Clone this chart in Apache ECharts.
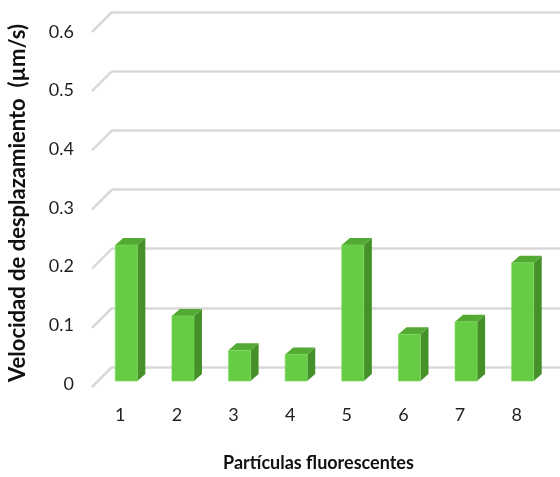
<!DOCTYPE html>
<html>
<head>
<meta charset="utf-8">
<script src="https://cdn.jsdelivr.net/npm/echarts@6/dist/echarts.min.js"></script>
<style>
html,body{margin:0;padding:0;background:#fff;}
#chart{width:560px;height:477px;}
</style>
</head>
<body>
<div id="chart"></div>
<script>
const categories = ['1', '2', '3', '4', '5', '6', '7', '8'];
const velocities = [0.23, 0.11, 0.052, 0.045, 0.23, 0.079, 0.10, 0.20];
const yTicks = [0, 0.1, 0.2, 0.3, 0.4, 0.5, 0.6];
const yTitle = 'Velocidad de desplazamiento  (µm/s)';
const xTitle = 'Partículas fluorescentes';

const FRONT = '#66cc44', TOP = '#53a934', SIDE = '#46902a';
const GRID_C = '#d9d9d9';
const DEPTH_X = 20, DEPTH_Y = 20;

const chart = echarts.init(document.getElementById('chart'));

function renderBar(params, api) {
  const i = api.value(0), v = api.value(1);
  const top = api.coord([i, v]);
  const base = api.coord([i, 0]);
  const w = api.size([1, 0])[0] * 0.39;
  const x0 = top[0] - w / 2, x1 = top[0] + w / 2;
  const dx = 8, dy = -7;
  return {
    type: 'group',
    children: [
      { type: 'polygon', shape: { points: [[x1, top[1]], [x1 + dx, top[1] + dy], [x1 + dx, base[1] + dy], [x1, base[1]]] }, style: { fill: SIDE } },
      { type: 'polygon', shape: { points: [[x0, top[1]], [x0 + dx, top[1] + dy], [x1 + dx, top[1] + dy], [x1, top[1]]] }, style: { fill: TOP } },
      { type: 'rect', shape: { x: x0, y: top[1], width: w, height: base[1] - top[1] }, style: { fill: FRONT, stroke: '#7ad85a', lineWidth: 0.6 } }
    ]
  };
}

function renderDiag(params, api) {
  const p = api.coord([0, api.value(0)]);
  return {
    type: 'line',
    shape: { x1: p[0], y1: p[1], x2: p[0] - DEPTH_X, y2: p[1] + DEPTH_Y },
    style: { stroke: GRID_C, lineWidth: 2.5 }
  };
}

const yBase = { type: 'value', min: 0, max: 0.6, interval: 0.1 };

chart.setOption({
  animation: false,
  backgroundColor: '#fff',
  textStyle: { fontFamily: 'Lato' },
  grid: [
    { left: 112, right: 0, top: 12, bottom: 110 },   // back wall
    { left: 92, right: 15, top: 32, bottom: 90 },    // front plane (labels)
    { left: 98, right: 9, top: 26, bottom: 96 }      // bar depth
  ],
  xAxis: [
    { gridIndex: 0, type: 'value', min: 0, max: 1, show: false },
    { gridIndex: 1, type: 'category', data: categories,
      axisLine: { show: false }, axisTick: { show: false },
      axisLabel: { color: '#1f1f1f', fontSize: 18, margin: 22, fontFamily: 'Lato' },
      name: xTitle, nameLocation: 'middle', nameGap: 70,
      nameTextStyle: { color: '#111', fontSize: 18, fontWeight: 'bold', fontFamily: 'Lato' } },
    { gridIndex: 2, type: 'category', data: categories, show: false }
  ],
  yAxis: [
    Object.assign({ gridIndex: 0, axisLine: { show: false }, axisTick: { show: false }, axisLabel: { show: false },
      splitLine: { show: true, lineStyle: { color: GRID_C, width: 2.5 } } }, yBase),
    Object.assign({ gridIndex: 1, axisLine: { show: false }, axisTick: { show: false }, splitLine: { show: false },
      axisLabel: { color: '#1f1f1f', fontSize: 18, margin: 18, fontFamily: 'Lato' } }, yBase),
    Object.assign({ gridIndex: 2, show: false }, yBase)
  ],
  series: [
    { type: 'custom', xAxisIndex: 0, yAxisIndex: 0, renderItem: renderDiag, clip: false,
      data: yTicks.map(t => [t]), encode: { y: 0 }, silent: true, z: 1 },
    { type: 'custom', xAxisIndex: 2, yAxisIndex: 2, renderItem: renderBar, clip: false,
      data: velocities.map((v, i) => [i, v]), encode: { x: 0, y: 1 }, z: 3 }
  ],
  graphic: [
    { type: 'text', x: 18, y: 203, rotation: Math.PI / 2,
      style: { text: yTitle, fill: '#111', font: 'bold 22px Lato', align: 'center', verticalAlign: 'middle' } }
  ]
});
</script>
</body>
</html>
